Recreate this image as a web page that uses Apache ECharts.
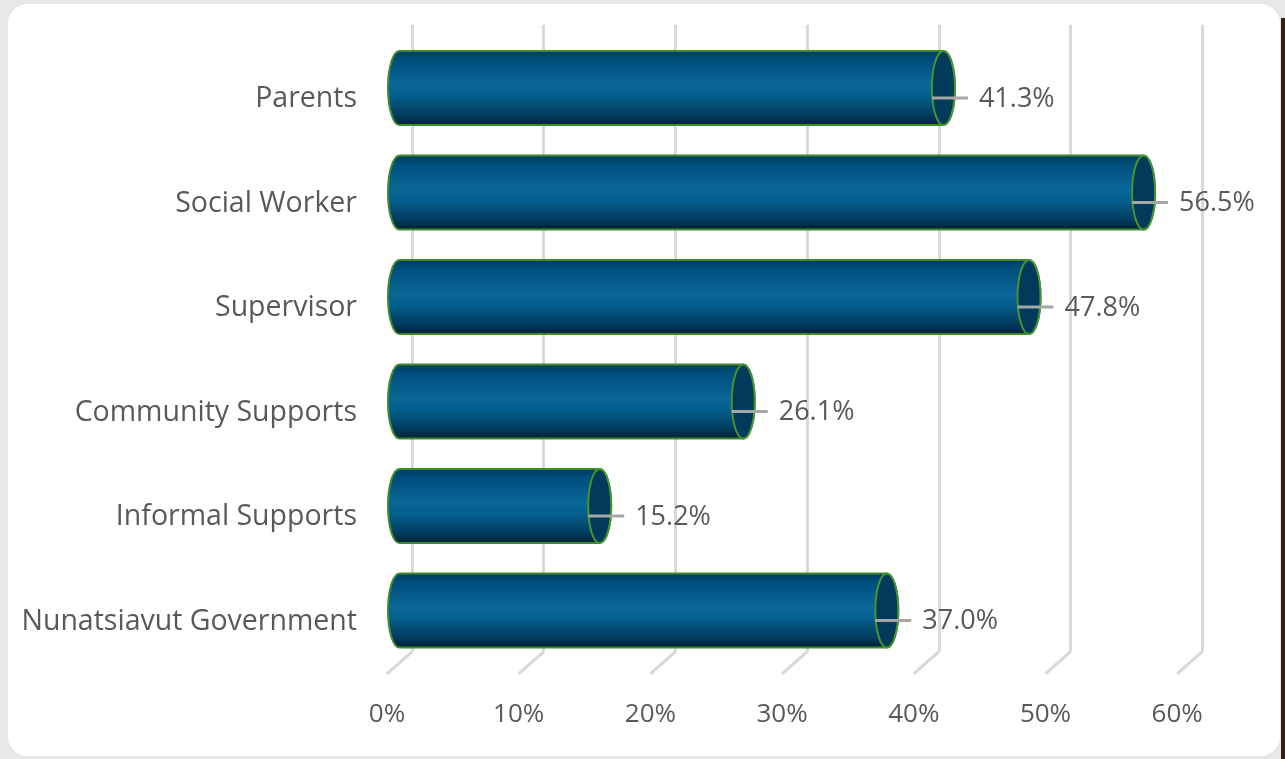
<!DOCTYPE html>
<html>
<head>
<meta charset="utf-8">
<script src="https://cdn.jsdelivr.net/npm/echarts@6/dist/echarts.min.js"></script>
<style>
  html, body { margin: 0; padding: 0; width: 1285px; height: 759px; overflow: hidden; background: #e8e8e8; }
  #panel { position: absolute; left: 8px; top: 4px; width: 1272px; height: 752px; background: #ffffff; border-radius: 20px; }
  #edge { position: absolute; left: 1281px; top: 18px; width: 4px; height: 741px; background: #2e2018; }
  #chart { position: absolute; left: 0; top: 0; width: 1285px; height: 759px; }
</style>
</head>
<body>
<div id="panel"></div>
<div id="edge"></div>
<div id="chart"></div>
<script>
// Who people turn to for support (share of respondents)
const categories = ['Parents', 'Social Worker', 'Supervisor', 'Community Supports', 'Informal Supports', 'Nunatsiavut Government'];
const values = [41.3, 56.5, 47.8, 26.1, 15.2, 37.0];
const ticks = [0, 10, 20, 30, 40, 50, 60];

// Pseudo-3D layout: back wall, mid-depth (bars), front plane (labels)
const AXIS_MIN = 0, AXIS_MAX = 60, AXIS_STEP = 10;
const PLOT_W = 790.2, PLOT_H = 627;
const DEPTH_X = 25, DEPTH_Y = 22;
const FRONT_LEFT = 387, FRONT_TOP = 46.75;
const BAR_RATIO = 0.71;
const CAP_RX = 11.5;
const LEAD_EXT = 13, LEAD_GAP = 11;

const TEXT = '#595959';
const FONT = '"Open Sans", "Noto Sans", sans-serif';

function gridAt(dx, dy) {
  return {
    left: FRONT_LEFT + dx,
    top: FRONT_TOP - dy,
    width: PLOT_W,
    height: PLOT_H
  };
}

function xAxisFor(gridIndex, extra) {
  return Object.assign({
    type: 'value', gridIndex, min: AXIS_MIN, max: AXIS_MAX, interval: AXIS_STEP,
    axisLine: { show: false }, axisTick: { show: false },
    axisLabel: { show: false }, splitLine: { show: false }
  }, extra || {});
}
function yAxisFor(gridIndex, extra) {
  return Object.assign({
    type: 'category', gridIndex, data: categories, inverse: true,
    axisLine: { show: false }, axisTick: { show: false },
    axisLabel: { show: false }, splitLine: { show: false }
  }, extra || {});
}

// Cylinder body + end cap + leader line + value label
function renderCylinder(params, api) {
  const i = api.value(0);
  const v = api.value(1);
  const start = api.coord([0, i]);
  const end = api.coord([v, i]);
  const h = api.size([0, 1])[1] * BAR_RATIO;
  const ry = h / 2, rx = CAP_RX, k = 0.5523;
  const x0 = start[0], x1 = end[0], yc = end[1];
  const top = yc - ry, bot = yc + ry;

  const body =
    'M' + x0 + ' ' + top + ' L' + x1 + ' ' + top +
    ' C' + (x1 + rx * k) + ' ' + top + ' ' + (x1 + rx) + ' ' + (yc - ry * k) + ' ' + (x1 + rx) + ' ' + yc +
    ' C' + (x1 + rx) + ' ' + (yc + ry * k) + ' ' + (x1 + rx * k) + ' ' + bot + ' ' + x1 + ' ' + bot +
    ' L' + x0 + ' ' + bot +
    ' C' + (x0 - rx * k) + ' ' + bot + ' ' + (x0 - rx) + ' ' + (yc + ry * k) + ' ' + (x0 - rx) + ' ' + yc +
    ' C' + (x0 - rx) + ' ' + (yc - ry * k) + ' ' + (x0 - rx * k) + ' ' + top + ' ' + x0 + ' ' + top + ' Z';

  const cap =
    'M' + x1 + ' ' + top +
    ' C' + (x1 + rx * k) + ' ' + top + ' ' + (x1 + rx) + ' ' + (yc - ry * k) + ' ' + (x1 + rx) + ' ' + yc +
    ' C' + (x1 + rx) + ' ' + (yc + ry * k) + ' ' + (x1 + rx * k) + ' ' + bot + ' ' + x1 + ' ' + bot +
    ' C' + (x1 - rx * k) + ' ' + bot + ' ' + (x1 - rx) + ' ' + (yc + ry * k) + ' ' + (x1 - rx) + ' ' + yc +
    ' C' + (x1 - rx) + ' ' + (yc - ry * k) + ' ' + (x1 - rx * k) + ' ' + top + ' ' + x1 + ' ' + top + ' Z';

  const leadY = yc + DEPTH_Y / 2 - 1;
  const leadEnd = x1 + rx + LEAD_EXT;

  return {
    type: 'group',
    children: [
      {
        type: 'path',
        shape: { pathData: body },
        style: {
          fill: {
            type: 'linear', x: 0, y: 0, x2: 0, y2: 1,
            colorStops: [
              { offset: 0, color: '#003a5b' },
              { offset: 0.12, color: '#004d7a' },
              { offset: 0.45, color: '#0a669a' },
              { offset: 0.6, color: '#055f8e' },
              { offset: 0.85, color: '#023d60' },
              { offset: 1, color: '#011d34' }
            ]
          },
          stroke: '#3f8a2c',
          lineWidth: 2
        }
      },
      {
        type: 'path',
        shape: { pathData: cap },
        style: { fill: '#023a5c', stroke: '#47932f', lineWidth: 2 }
      },
      {
        type: 'line',
        shape: { x1: x1 - rx, y1: leadY, x2: leadEnd, y2: leadY },
        style: { stroke: '#a6a6a6', lineWidth: 3 }
      },
      {
        type: 'text',
        style: {
          text: v.toFixed(1) + '%',
          x: leadEnd + LEAD_GAP,
          y: leadY + 1,
          align: 'left',
          verticalAlign: 'middle',
          fontSize: 27,
          fontFamily: FONT,
          fill: TEXT
        }
      }
    ]
  };
}

// Floor ticks: diagonal from front plane to back wall
function renderFloorTick(params, api) {
  const v = api.value(0);
  const cs = params.coordSys;
  const fx = api.coord([v, 0])[0];
  const fy = cs.y + cs.height;
  return {
    type: 'line',
    shape: { x1: fx, y1: fy, x2: fx + DEPTH_X, y2: fy - DEPTH_Y },
    style: { stroke: '#d9d9d9', lineWidth: 3 }
  };
}

const chart = echarts.init(document.getElementById('chart'), null, { renderer: 'canvas' });

chart.setOption({
  animation: false,
  backgroundColor: 'transparent',
  grid: [
    gridAt(DEPTH_X, DEPTH_Y),          // back wall
    gridAt(DEPTH_X / 2, DEPTH_Y / 2),  // bars
    gridAt(0, 0)                       // front plane
  ],
  xAxis: [
    xAxisFor(0, { splitLine: { show: true, lineStyle: { color: '#d9d9d9', width: 3 } } }),
    xAxisFor(1),
    xAxisFor(2, {
      axisLabel: {
        show: true, margin: 28, color: TEXT, fontSize: 26, fontFamily: FONT,
        formatter: function (val) { return ticks.indexOf(val) >= 0 ? val + '%' : ''; }
      }
    })
  ],
  yAxis: [
    yAxisFor(0),
    yAxisFor(1),
    yAxisFor(2, {
      axisLabel: {
        show: true, margin: 30, color: TEXT, fontSize: 28.5, fontFamily: FONT,
        padding: [4, 0, 0, 0]
      }
    })
  ],
  series: [
    {
      type: 'custom',
      xAxisIndex: 2, yAxisIndex: 2,
      renderItem: renderFloorTick,
      data: ticks.map(function (t) { return [t]; }),
      encode: { x: 0 },
      silent: true,
      z: 1
    },
    {
      type: 'custom',
      xAxisIndex: 1, yAxisIndex: 1,
      renderItem: renderCylinder,
      data: values.map(function (v, i) { return [i, v]; }),
      encode: { y: 0, x: 1 },
      z: 2
    }
  ]
});
</script>
</body>
</html>
